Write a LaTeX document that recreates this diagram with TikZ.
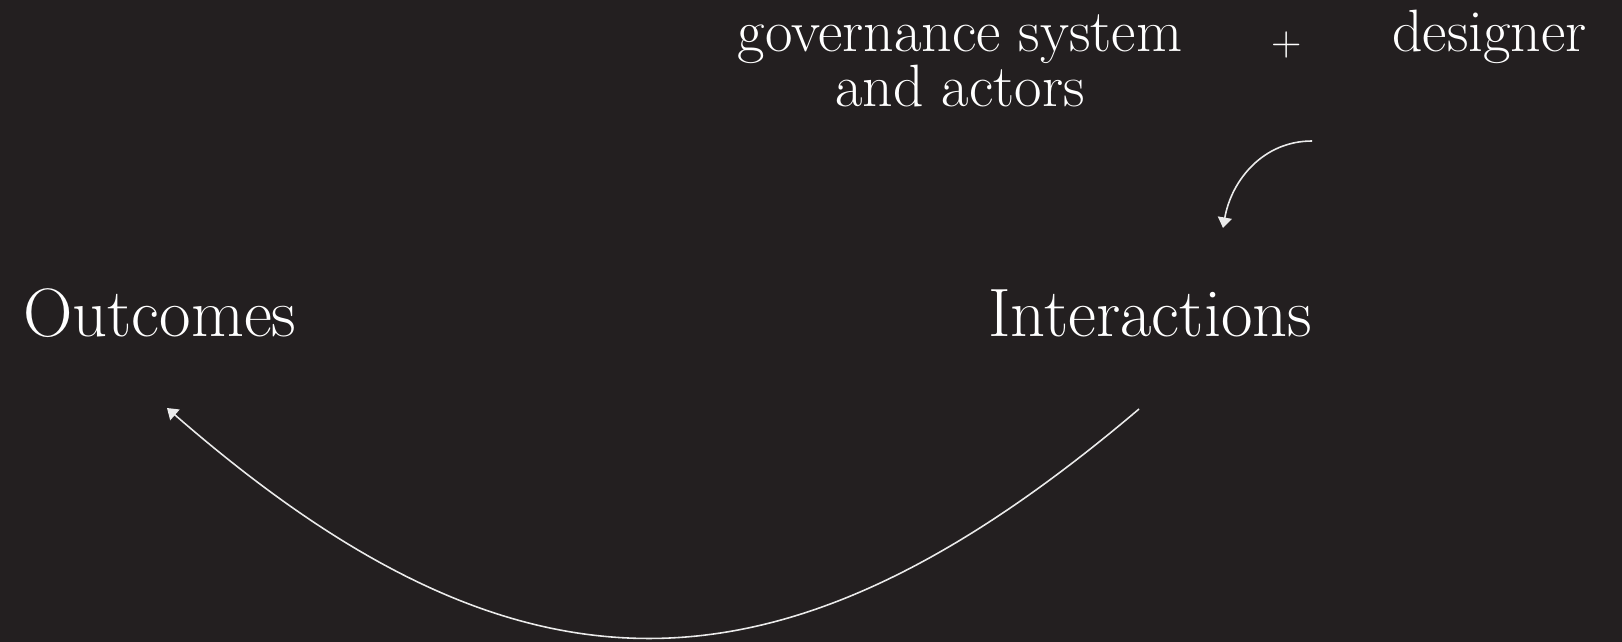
\documentclass[tikz,border=0pt]{standalone}
\usetikzlibrary{arrows.meta}
\definecolor{bgdark}{RGB}{35,31,32}
\begin{document}
\begin{tikzpicture}[x=0.02cm, y=-0.02cm,
    big/.style={text=white, inner sep=0pt, anchor=base west, font=\fontsize{39}{42}\selectfont},
    small/.style={text=white, inner sep=0pt, font=\fontsize{34}{31.5}\selectfont},
    flow/.style={draw=white!92!black, line width=0.9pt, -{Triangle[width=8pt,length=6pt]}}
]
% Background
\fill[bgdark] (0,0) rectangle (1622,642);
\useasboundingbox (0,0) rectangle (1622,642);

% Top inputs
\node[small, align=center, anchor=base] (gov) at (960,107) {governance system\\and actors};
\node[small, anchor=center, font=\fontsize{24}{24}\selectfont] (plus) at (1287,45) {+};
\node[small, anchor=base west] (des) at (1392,52) {designer};

% Main stages
\node[big] (out) at (23,336) {Outcomes};
\node[big] (inter) at (988,336) {Interactions};

% Connections
\coordinate (feedin) at (1312,141);
\coordinate (feedout) at (1223,228);
\coordinate (arcin) at (1139,409);
\coordinate (arcout) at (167,408);
\draw[flow] (feedin) to[out=180, in=80] (feedout);
\draw[flow] (arcin) .. controls (780,714) and (518,714) .. (arcout);
\end{tikzpicture}
\end{document}
